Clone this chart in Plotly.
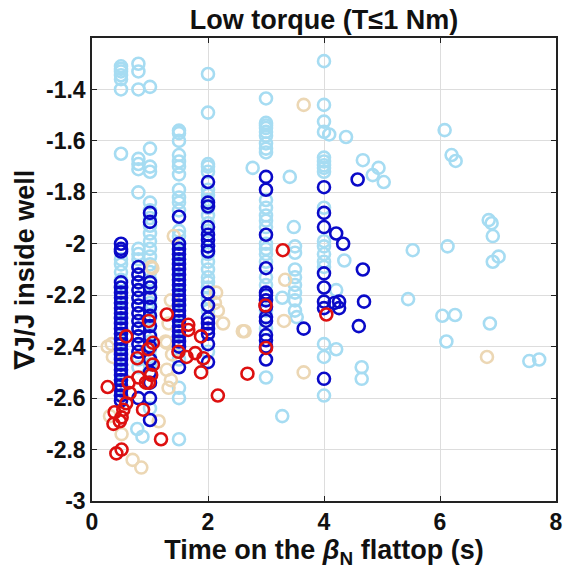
import plotly.graph_objects as go

# Shot groups: time on the beta_N flattop (s) vs. gradient of J/J inside the well
lb_x = ([0.5] * 26 + [0.8] * 24 + [0.78, 0.87] + [1.0] * 28 + [1.5] * 32
        + [2.0] * 23 + [2.77] + [3.0] * 23 + [3.41, 3.48]
        + [3.5] * 8 + [3.53, 3.28, 3.28]
        + [4.0] * 18 + [4.09, 4.38, 4.35, 4.21, 4.21, 4.65, 4.65, 4.67, 4.94, 4.84, 5.03,
                        5.45, 5.53, 6.08, 6.20, 6.27, 6.13, 6.04, 6.26, 6.11, 6.84, 6.89,
                        6.91, 7.01, 6.91, 6.86, 7.54, 7.71])
lb_y = ([-1.31, -1.32, -1.33, -1.345, -1.36, -1.40, -1.65, -2.06, -2.08, -2.11, -2.14, -2.17,
         -2.20, -2.23, -2.26, -2.29, -2.32, -2.35, -2.38, -2.41, -2.44, -2.47, -2.50, -2.53,
         -2.56, -2.59]
        + [-1.30, -1.33, -1.40, -1.67, -1.69, -1.71, -1.80, -2.02, -2.04, -2.06, -2.09, -2.12,
           -2.15, -2.18, -2.21, -2.24, -2.27, -2.30, -2.33, -2.36, -2.39, -2.42, -2.45, -2.48]
        + [-2.72, -2.75]
        + [-1.39, -1.63, -1.70, -1.72, -1.84, -1.87, -1.90, -1.93, -1.96, -1.99, -2.02, -2.05,
           -2.08, -2.11, -2.14, -2.17, -2.20, -2.23, -2.26, -2.29, -2.32, -2.35, -2.38, -2.41,
           -2.44, -2.47, -2.50, -2.64]
        + [-1.56, -1.57, -1.60, -1.655, -1.68, -1.70, -1.73, -1.79, -1.82, -1.84, -1.87, -1.95,
           -1.97, -2.00, -2.03, -2.06, -2.09, -2.12, -2.15, -2.18, -2.21, -2.24, -2.27, -2.30,
           -2.33, -2.36, -2.39, -2.42, -2.45, -2.56, -2.60, -2.76]
        + [-1.34, -1.49, -1.69, -1.70, -1.72, -1.79, -1.81, -1.83, -1.86, -1.89, -1.92, -1.95,
           -1.98, -2.01, -2.04, -2.07, -2.10, -2.13, -2.15, -2.17, -2.21, -2.26, -2.42]
        + [-1.705]
        + [-1.435, -1.53, -1.54, -1.55, -1.565, -1.58, -1.61, -1.63, -1.645, -1.83, -1.86, -1.89,
           -1.91, -1.935, -2.00, -2.02, -2.04, -2.07, -2.13, -2.16, -2.26, -2.33, -2.52]
        + [-1.74, -1.935]
        + [-2.01, -2.035, -2.10, -2.13, -2.16, -2.19, -2.22, -2.26]
        + [-2.285, -2.21, -2.67]
        + [-1.29, -1.46, -1.525, -1.565, -1.665, -1.68, -1.695, -1.705, -1.72, -1.86, -1.99,
           -2.01, -2.04, -2.07, -2.09, -2.39, -2.44, -2.59]
        + [-1.575, -1.585, -2.065, -2.18, -2.41, -2.48, -2.525, -1.675, -1.705, -1.733, -1.76,
           -2.215, -2.025, -1.558, -1.655, -1.678, -2.01, -2.28, -2.277, -2.38, -1.908, -1.92,
           -1.97, -2.05, -2.07, -2.31, -2.456, -2.45])

tan_x = [0.27, 0.34, 0.36, 0.31, 0.51, 0.70, 0.85, 1.02, 1.04, 1.41, 1.36, 1.32, 1.29, 1.27,
         1.38, 1.36, 1.32, 1.29, 1.15, 2.14, 2.12, 2.17, 2.26, 2.60, 2.63, 3.33, 3.31, 3.65,
         3.65, 6.81]
tan_y = [-2.40, -2.39, -2.44, -2.67, -2.74, -2.84, -2.87, -2.09, -2.095, -1.97, -2.22, -2.31,
         -2.385, -2.38, -2.43, -2.53, -2.56, -2.49, -2.69, -2.19, -2.23, -2.26, -2.31, -2.34,
         -2.34, -2.14, -2.30, -2.50, -1.46, -2.44]

db_x = ([0.5] * 27 + [0.8] * 13 + [1.0] * 15 + [1.5] * 23 + [2.0] * 16 + [3.0] * 14
        + [3.65] + [4.0] * 8 + [4.21, 4.33, 4.58, 4.18, 4.26, 4.26, 4.67, 4.69, 4.60])
db_y = ([-2.00, -2.02, -2.03, -2.15, -2.17, -2.19, -2.21, -2.23, -2.25, -2.27, -2.29, -2.31,
         -2.33, -2.35, -2.37, -2.39, -2.41, -2.43, -2.45, -2.47, -2.49, -2.51, -2.53, -2.55,
         -2.57, -2.59, -2.61]
        + [-2.09, -2.12, -2.15, -2.18, -2.21, -2.24, -2.27, -2.30, -2.33, -2.36, -2.39, -2.42,
           -2.60]
        + [-1.88, -1.915, -2.15, -2.17, -2.21, -2.245, -2.28, -2.32, -2.36, -2.40, -2.45, -2.50,
           -2.54, -2.60, -2.685]
        + [-1.895, -2.00, -2.02, -2.04, -2.06, -2.08, -2.10, -2.12, -2.14, -2.16, -2.18, -2.20,
           -2.22, -2.24, -2.26, -2.28, -2.30, -2.32, -2.34, -2.36, -2.38, -2.40, -2.48]
        + [-1.76, -1.84, -1.855, -1.935, -1.965, -1.985, -2.01, -2.03, -2.19, -2.24, -2.29,
           -2.31, -2.33, -2.35, -2.39, -2.46]
        + [-1.74, -1.79, -1.965, -2.095, -2.19, -2.20, -2.22, -2.245, -2.285, -2.30, -2.355,
           -2.375, -2.40, -2.45]
        + [-2.33]
        + [-1.78, -1.88, -1.935, -2.115, -2.17, -2.225, -2.25, -2.525]
        + [-1.96, -2.00, -1.75, -2.23, -2.225, -2.25, -2.10, -2.225, -2.32])

red_x = [0.27, 0.59, 0.39, 0.37, 0.48, 0.51, 0.54, 0.59, 0.65, 0.63, 0.42, 0.51, 0.78, 0.80,
         0.88, 0.98, 1.05, 0.97, 1.05, 1.02, 0.93, 0.98, 1.29, 1.19, 1.66, 1.66, 1.49, 1.63,
         1.78, 1.88, 1.92, 1.88, 2.17, 2.68, 2.99, 3.00, 3.29, 4.04]
red_y = [-2.557, -2.36, -2.655, -2.70, -2.69, -2.675, -2.645, -2.62, -2.58, -2.54, -2.815,
         -2.80, -2.445, -2.52, -2.645, -2.30, -2.385, -2.41, -2.47, -2.51, -2.54, -2.54, -2.275,
         -2.76, -2.315, -2.335, -2.42, -2.44, -2.425, -2.36, -2.445, -2.50, -2.59, -2.505,
         -2.24, -2.405, -2.025, -2.275]

x_ticks = [0, 2, 4, 6, 8]
y_ticks = [-3, -2.8, -2.6, -2.4, -2.2, -2, -1.8, -1.6, -1.4]
y_tick_text = ["-3", "-2.8", "-2.6", "-2.4", "-2.2", "-2", "-1.8", "-1.6", "-1.4"]

series = [
    (lb_x, lb_y, "#a6dcf2"),
    (tan_x, tan_y, "#ecd7b4"),
    (db_x, db_y, "#0a0ac8"),
    (red_x, red_y, "#dd1010"),
]

fig = go.Figure()
for xs, ys, col in series:
    fig.add_trace(go.Scatter(
        x=xs, y=ys, mode="markers",
        marker=dict(symbol="circle-open", size=12, color=col, line=dict(width=2.6, color=col)),
        showlegend=False, hoverinfo="skip",
    ))

font_bold = dict(family="Liberation Sans, Arial, sans-serif", color="#111111", weight="bold")

axis_common = dict(
    showline=True, linecolor="#222222", linewidth=1.5, mirror="ticks",
    ticks="inside", ticklen=5, tickwidth=1.2, tickcolor="#222222",
    showgrid=True, gridcolor="#dddddd", gridwidth=1, zeroline=False,
)

fig.update_layout(
    width=570, height=575,
    margin=dict(l=92, r=7, t=38, b=74),
    paper_bgcolor="white", plot_bgcolor="white",
    title=dict(text="Low torque (T≤1 Nm)", x=0.5, xanchor="center", xref="paper",
               y=0.966, yanchor="middle", font=dict(size=27, **font_bold)),
    xaxis=dict(range=[0, 8], tickvals=x_ticks, tickfont=dict(size=23, **font_bold),
               title=dict(text="Time on the <i>β</i><sub>N</sub> flattop (s)", standoff=0,
                          font=dict(size=27, **font_bold)),
               **axis_common),
    yaxis=dict(range=[-3, -1.2], tickvals=y_ticks, ticktext=y_tick_text,
               tickfont=dict(size=23, **font_bold),
               title=dict(text="∇J/J inside well", standoff=4, font=dict(size=27, **font_bold)),
               **axis_common),
)

fig.write_html("out.html")
